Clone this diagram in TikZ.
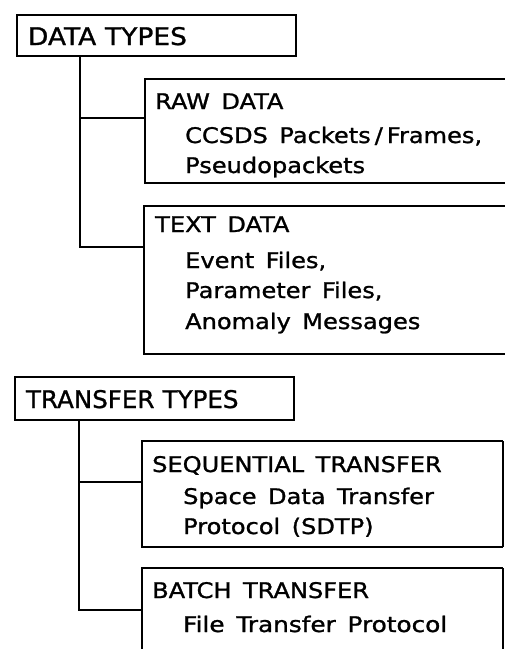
\documentclass[tikz,border=0pt]{standalone}
\usepackage{fontspec}
\setmainfont{DejaVu Sans}[WordSpace=1.5,FakeBold=1.1]
\newcommand{\wide}[1]{\scalebox{1.12}[1]{#1}}
\newcommand{\widetitle}[2][1.06]{\scalebox{#1}[1]{#2}}
\begin{document}
\begin{tikzpicture}[x=1pt,y=-1pt,
  frame/.style={line width=2pt},
  thinframe/.style={line width=1.2pt},
  link/.style={line width=2pt},
  txtfont/.style={font=\fontsize{21.5}{26}\selectfont},
  titlebox/.style={draw,line width=2pt,anchor=north west,inner ysep=0pt,inner xsep=11pt,
    minimum width=279pt,text width=257pt,align=left,
    font=\fontsize{24.3}{28}\selectfont},
  head/.style={anchor=base west,inner sep=0pt,txtfont},
  item/.style={anchor=base west,inner sep=0pt,txtfont}]
\useasboundingbox (0,0) rectangle (505,649);

% ---- data types ----
\node[titlebox,text height=30pt,text depth=11pt] (dt) at (16,14) {\widetitle[1.09]{DATA TYPES}};

\node[head] (raw) at (155,109) {\wide{RAW DATA}};
\node[item] (raw1) at (185,143) {\wide{CCSDS Packets\,/\,Frames,}};
\node[item] (raw2) at (185,173) {\wide{Pseudopackets}};
\draw[frame] (505,79) -- (145,79) -- (145,183) -- (505,183);
\coordinate (rawin) at (145,118);

\node[head] (txt) at (155,232) {\wide{TEXT DATA}};
\node[item] (txt1) at (185,268) {\wide{Event Files,}};
\node[item] (txt2) at (185,298) {\wide{Parameter Files,}};
\node[item] (txt3) at (185,329) {\wide{Anomaly Messages}};
\draw[frame] (505,206) -- (144,206) -- (144,354) -- (505,354);
\coordinate (txtin) at (144,247);

\coordinate (dtstem) at (80,55);
\draw[link] (dtstem) |- (txtin);
\draw[link] (dtstem |- rawin) -- (rawin);

% ---- transfer types ----
\node[titlebox,text height=31pt,text depth=12pt] (tt) at (14,376) {\widetitle[1.01]{TRANSFER TYPES}};

\node[head] (seq) at (152,472) {\wide{SEQUENTIAL TRANSFER}};
\node[item] (seq1) at (183,504) {\wide{Space Data Transfer}};
\node[item] (seq2) at (183,534) {\wide{Protocol (SDTP)}};
\draw[frame] (503,441) -- (142,441) -- (142,547) -- (503,547);
\draw[thinframe] (503,441) -- (503,547);
\coordinate (seqin) at (142,482);

\node[head] (bat) at (152,598) {\wide{BATCH TRANSFER}};
\node[item] (bat1) at (183,632) {\scalebox{1.15}[1]{File Transfer Protocol}};
\draw[frame] (142,649) -- (142,568) -- (503,568);
\draw[thinframe] (503,568) -- (503,649);
\coordinate (batin) at (142,610);

\coordinate (ttstem) at (79,419);
\draw[link] (ttstem) |- (batin);
\draw[link] (ttstem |- seqin) -- (seqin);
\end{tikzpicture}
\end{document}
